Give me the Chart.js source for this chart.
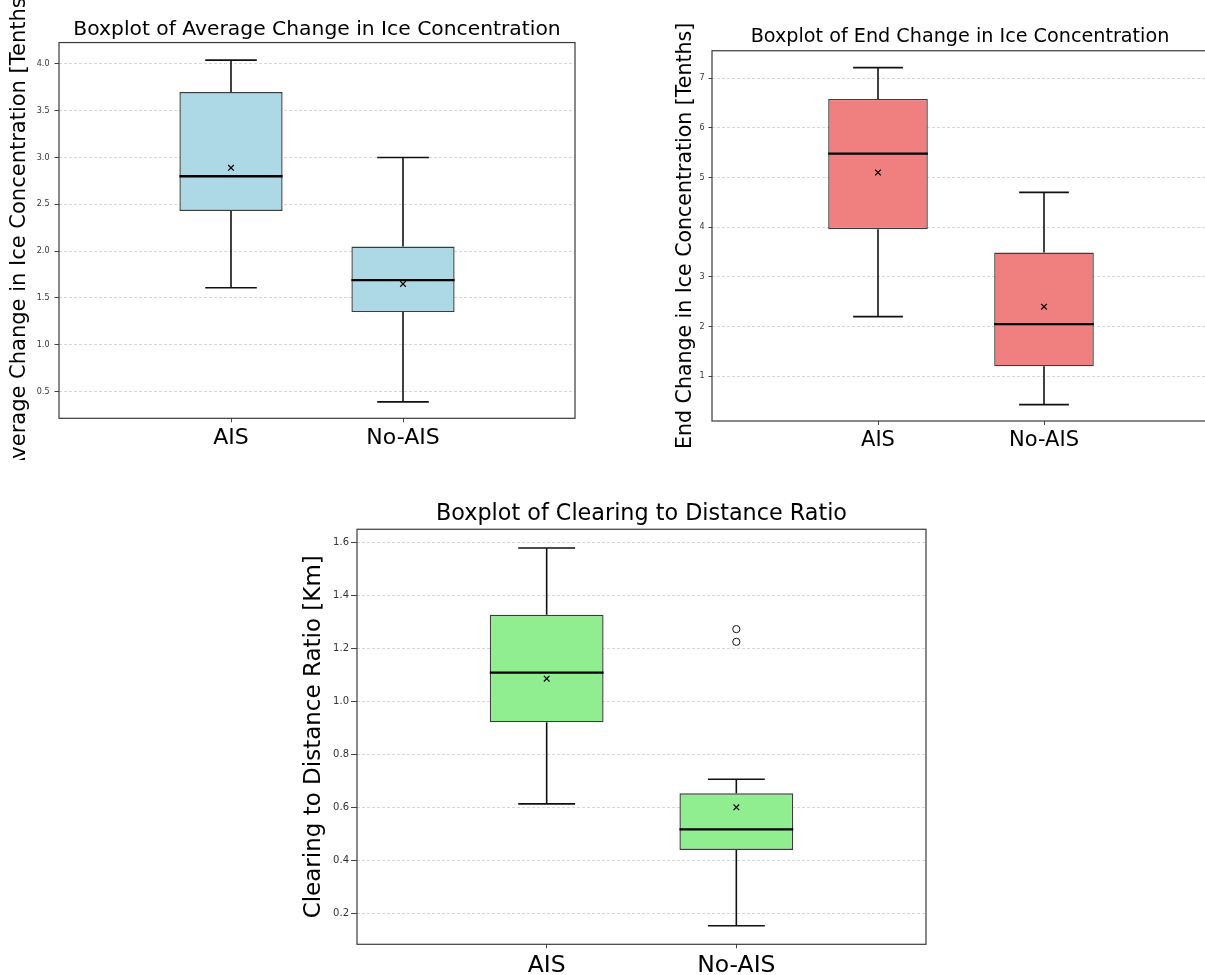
<!DOCTYPE html>
<html>
<head>
<meta charset="utf-8">
<script src="https://cdn.jsdelivr.net/npm/chart.js@4.4.1/dist/chart.umd.min.js"></script>
<style>
  html, body { margin: 0; padding: 0; background: #fff; overflow: hidden; width: 1205px; height: 975px; }
  canvas { position: absolute; }
</style>
</head>
<body>
<canvas id="avg" width="634" height="460" style="left:0;top:0"></canvas>
<canvas id="end" width="600" height="460" style="left:660px;top:0"></canvas>
<canvas id="ratio" width="703" height="495" style="left:290px;top:480px"></canvas>

<script>
/* ===== boxplot summaries ===== */
const groups = ["AIS", "No-AIS"];

// Average change in ice concentration [tenths]
const avgLow    = [1.61, 0.39];
const avgQ1     = [2.43, 1.35];
const avgMedian = [2.80, 1.69];
const avgQ3     = [3.70, 2.05];
const avgHigh   = [4.04, 3.00];
const avgMean   = [2.89, 1.65];
const avgTicks  = [0.5, 1.0, 1.5, 2.0, 2.5, 3.0, 3.5, 4.0];

// End change in ice concentration [tenths]
const endLow    = [2.20, 0.43];
const endQ1     = [3.96, 1.20];
const endMedian = [5.48, 2.05];
const endQ3     = [6.58, 3.49];
const endHigh   = [7.21, 4.70];
const endMean   = [5.10, 2.40];
const endTicks  = [1, 2, 3, 4, 5, 6, 7];

// Clearing to distance ratio [km]
const ratioLow      = [0.613, 0.153];
const ratioQ1       = [0.921, 0.439];
const ratioMedian   = [1.109, 0.517];
const ratioQ3       = [1.327, 0.653];
const ratioHigh     = [1.579, 0.706];
const ratioMean     = [1.086, 0.600];
const ratioOutliers = [[], [1.273, 1.225]];
const ratioTicks    = [0.2, 0.4, 0.6, 0.8, 1.0, 1.2, 1.4, 1.6];

const BOX = 0.6;   // box width, in category units
const CAP = 0.15;  // half width of whisker caps

Chart.defaults.font.family = "'DejaVu Sans', sans-serif";
Chart.defaults.color = "#222";

// spines on all four sides, like matplotlib
const frame = {
  id: "frame",
  afterDatasetsDraw(chart) {
    const { ctx, chartArea: a } = chart;
    ctx.save();
    ctx.strokeStyle = "#3a3a3a";
    ctx.lineWidth = 1.2;
    ctx.strokeRect(a.left, a.top, a.right - a.left, a.bottom - a.top);
    ctx.restore();
  }
};

function boxDatasets(s) {
  const lines = [], meds = [];
  groups.forEach((g, i) => {
    const x = i + 1;
    lines.push({x, y: s.q3[i]}, {x, y: s.high[i]}, {x, y: null},
               {x, y: s.q1[i]}, {x, y: s.low[i]}, {x, y: null},
               {x: x - CAP, y: s.high[i]}, {x: x + CAP, y: s.high[i]}, {x, y: null},
               {x: x - CAP, y: s.low[i]},  {x: x + CAP, y: s.low[i]},  {x, y: null});
    meds.push({x: x - BOX / 2, y: s.median[i]}, {x: x + BOX / 2, y: s.median[i]}, {x, y: null});
  });
  const sets = [
    { type: "bar", order: 4,
      data: groups.map((g, i) => ({x: i + 1, y: [s.q1[i], s.q3[i]]})),
      backgroundColor: s.fill, borderColor: "#3c3c3c", borderWidth: 1.4, borderSkipped: false,
      barPercentage: BOX, categoryPercentage: 1 },
    { type: "line", order: 3, data: lines, borderColor: "#111", borderWidth: 1.6,
      pointRadius: 0, spanGaps: false, fill: false },
    { type: "line", order: 2, data: meds, borderColor: "#000", borderWidth: 2.3,
      pointRadius: 0, spanGaps: false, fill: false },
    { type: "scatter", order: 1,
      data: groups.map((g, i) => ({x: i + 1, y: s.mean[i]})),
      pointStyle: "crossRot", pointRadius: 4, borderColor: "#000", borderWidth: 1.2 }
  ];
  if (s.outliers) {
    sets.push({ type: "scatter", order: 0,
      data: s.outliers.flatMap((list, i) => list.map(v => ({x: i + 1, y: v}))),
      pointStyle: "circle", pointRadius: 3.6, backgroundColor: "#fff",
      borderColor: "#111", borderWidth: 1 });
  }
  return sets;
}

function drawBox(id, s) {
  new Chart(document.getElementById(id), {
    type: "bar",
    data: { datasets: boxDatasets(s) },
    plugins: [frame],
    options: {
      responsive: false,
      animation: false,
      layout: { padding: 0 },
      plugins: {
        legend: { display: false },
        tooltip: { enabled: false },
        title: {
          display: true, text: s.title, color: "#000",
          font: { size: s.titleSize, weight: "normal", lineHeight: 1.2 },
          padding: { top: s.titleTop, bottom: s.titleBottom }
        }
      },
      scales: {
        x: {
          type: "linear", min: 0, max: 3, offset: false,
          afterBuildTicks: sc => { sc.ticks = groups.map((g, i) => ({value: i + 1})); },
          afterFit: sc => { sc.height = s.xHeight; },
          ticks: { autoSkip: false, maxRotation: 0, padding: 3, color: "#000",
                   font: { size: s.xSize }, callback: v => groups[v - 1] },
          grid: { drawOnChartArea: false, offset: false, tickLength: 4, tickColor: "#444", tickWidth: 1 },
          border: { display: false }
        },
        y: {
          type: "linear", position: "left", min: s.ymin, max: s.ymax,
          afterBuildTicks: sc => { sc.ticks = s.ticks.map(v => ({value: v})); },
          afterFit: sc => { sc.width = s.yWidth; },
          ticks: { autoSkip: false, padding: s.tickPad, color: "#333",
                   font: { size: s.tickSize }, callback: v => v.toFixed(s.decimals) },
          grid: { color: "#cdcdcd", lineWidth: 0.8, tickLength: s.tickLen, tickColor: "#444", tickWidth: 1 },
          border: { display: false, dash: [3, 2] },
          title: { display: true, text: s.ylabel, color: "#000",
                   font: { size: s.ylabelSize, lineHeight: 1.2 }, padding: { top: s.ylabelPad, bottom: 0 } }
        },
        yr: {
          type: "linear", position: "right", display: true,
          afterFit: sc => { sc.width = s.rightWidth; },
          ticks: { display: false }, grid: { display: false }, border: { display: false }
        }
      }
    }
  });
}

drawBox("avg", {
  title: "Boxplot of Average Change in Ice Concentration", titleSize: 20.3, titleTop: 17.4, titleBottom: 0.8,
  ylabel: "Average Change in Ice Concentration [Tenths]", ylabelSize: 21, ylabelPad: 6.8,
  yWidth: 59, rightWidth: 59, xHeight: 41.7, xSize: 22,
  tickSize: 8, tickLen: 4.5, tickPad: 5, decimals: 1,
  ymin: 0.215, ymax: 4.228, ticks: avgTicks, fill: "#add8e6",
  low: avgLow, q1: avgQ1, median: avgMedian, q3: avgQ3, high: avgHigh, mean: avgMean
});

drawBox("end", {
  title: "Boxplot of End Change in Ice Concentration", titleSize: 19.2, titleTop: 25.5, titleBottom: 2.2,
  ylabel: "End Change in Ice Concentration [Tenths]", ylabelSize: 20.5, ylabelPad: 13.4,
  yWidth: 52, rightWidth: 50, xHeight: 39, xSize: 21,
  tickSize: 8, tickLen: 3.5, tickPad: 4, decimals: 0,
  ymin: 0.10, ymax: 7.55, ticks: endTicks, fill: "#f08080",
  low: endLow, q1: endQ1, median: endMedian, q3: endQ3, high: endHigh, mean: endMean
});

drawBox("ratio", {
  title: "Boxplot of Clearing to Distance Ratio", titleSize: 22.3, titleTop: 20.7, titleBottom: 1.8,
  ylabel: "Clearing to Distance Ratio [Km]", ylabelSize: 23, ylabelPad: 10.1,
  yWidth: 67, rightWidth: 67, xHeight: 30.7, xSize: 23.5,
  tickSize: 10, tickLen: 6, tickPad: 2, decimals: 1,
  ymin: 0.083, ymax: 1.650, ticks: ratioTicks, fill: "#90ee90",
  low: ratioLow, q1: ratioQ1, median: ratioMedian, q3: ratioQ3, high: ratioHigh, mean: ratioMean,
  outliers: ratioOutliers
});
</script>
</body>
</html>
